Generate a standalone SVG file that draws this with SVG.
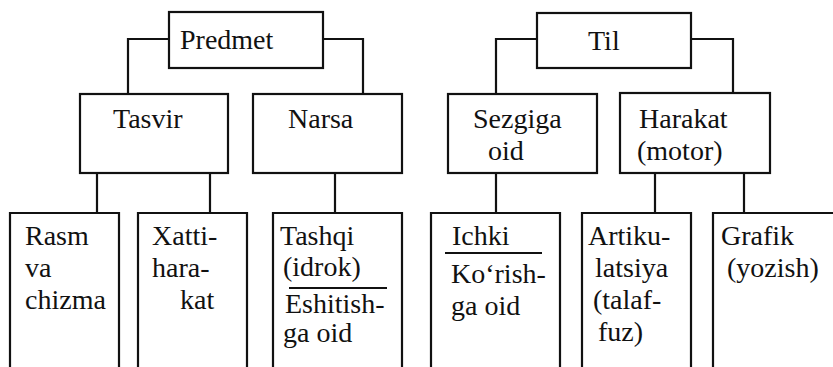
<svg xmlns="http://www.w3.org/2000/svg" width="833" height="367" viewBox="0 0 833 367">
<style>
.b{fill:#fff;stroke:#111;stroke-width:2.2}
.o{fill:none;stroke:#111;stroke-width:2.2}
.c{fill:none;stroke:#111;stroke-width:2.2}
svg text.t, text.t{font-family:'Liberation Serif',serif !important;font-size:28px;fill:#111}
</style>
<rect width="833" height="367" fill="#fff"/>
<g id="connectors">
<path class="c" d="M169 39 H128 V94 M323 39 H363 V94"/>
<path class="c" d="M537 39 H496 V94 M691 39 H733 V93"/>
<path class="c" d="M97 173 V213 M210 173 V213 M335 173 V213"/>
<path class="c" d="M496 173 V213 M655 173 V213 M744 173 V213"/>
</g>
<g id="predmet"><rect class="b" x="169" y="12" width="154" height="56"/><text class="t" style="font-family:'Liberation Serif',serif !important" x="180" y="49">Predmet</text></g>
<g id="til"><rect class="b" x="537" y="13" width="154" height="55"/><text class="t" style="font-family:'Liberation Serif',serif !important" x="588" y="50">Til</text></g>
<g id="tasvir"><rect class="b" x="80" y="94" width="148" height="79"/><text class="t" style="font-family:'Liberation Serif',serif !important" x="113" y="128">Tasvir</text></g>
<g id="narsa"><rect class="b" x="253" y="94" width="149" height="79"/><text class="t" style="font-family:'Liberation Serif',serif !important" x="288" y="128">Narsa</text></g>
<g id="sezgiga"><rect class="b" x="448" y="94" width="149" height="79"/><text class="t" style="font-family:'Liberation Serif',serif !important" x="473" y="128">Sezgiga</text><text class="t" style="font-family:'Liberation Serif',serif !important" x="488" y="160">oid</text></g>
<g id="harakat"><rect class="b" x="620" y="93" width="150" height="80"/><text class="t" style="font-family:'Liberation Serif',serif !important" x="639" y="128">Harakat</text><text class="t" style="font-family:'Liberation Serif',serif !important" x="637" y="160">(motor)</text></g>
<g id="rasm"><path class="o" d="M10 367 V213 H119 V367"/><text class="t" style="font-family:'Liberation Serif',serif !important" x="25" y="245">Rasm</text><text class="t" style="font-family:'Liberation Serif',serif !important" x="25" y="277">va</text><text class="t" style="font-family:'Liberation Serif',serif !important" x="25" y="309">chizma</text></g>
<g id="xatti"><path class="o" d="M138 367 V213 H247 V367"/><text class="t" style="font-family:'Liberation Serif',serif !important" x="152" y="245">Xatti-</text><text class="t" style="font-family:'Liberation Serif',serif !important" x="152" y="277">hara-</text><text class="t" style="font-family:'Liberation Serif',serif !important" x="180" y="309">kat</text></g>
<g id="tashqi"><path class="o" d="M273 367 V213 H402 V367"/><text class="t" style="font-family:'Liberation Serif',serif !important" x="280" y="245">Tashqi</text><text class="t" style="font-family:'Liberation Serif',serif !important" x="283" y="276">(idrok)</text><path class="o" d="M289 288 H387"/><text class="t" style="font-family:'Liberation Serif',serif !important" x="285" y="313">Eshitish-</text><text class="t" style="font-family:'Liberation Serif',serif !important" x="283" y="342">ga oid</text></g>
<g id="ichki"><path class="o" d="M431 367 V213 H560 V367"/><text class="t" style="font-family:'Liberation Serif',serif !important" x="452" y="245">Ichki</text><path class="o" d="M445 253 H542"/><text class="t" style="font-family:'Liberation Serif',serif !important" x="451" y="283">Ko&#8216;rish-</text><text class="t" style="font-family:'Liberation Serif',serif !important" x="451" y="315">ga oid</text></g>
<g id="artiku"><path class="o" d="M582 367 V213 H691 V367"/><text class="t" style="font-family:'Liberation Serif',serif !important" x="588" y="245">Artiku-</text><text class="t" style="font-family:'Liberation Serif',serif !important" x="595" y="277">latsiya</text><text class="t" style="font-family:'Liberation Serif',serif !important" x="593" y="309">(talaf-</text><text class="t" style="font-family:'Liberation Serif',serif !important" x="598" y="341">fuz)</text></g>
<g id="grafik"><path class="o" d="M713 367 V213 H833"/><text class="t" style="font-family:'Liberation Serif',serif !important" x="721" y="245">Grafik</text><text class="t" style="font-family:'Liberation Serif',serif !important" x="727" y="277">(yozish)</text></g>
</svg>
